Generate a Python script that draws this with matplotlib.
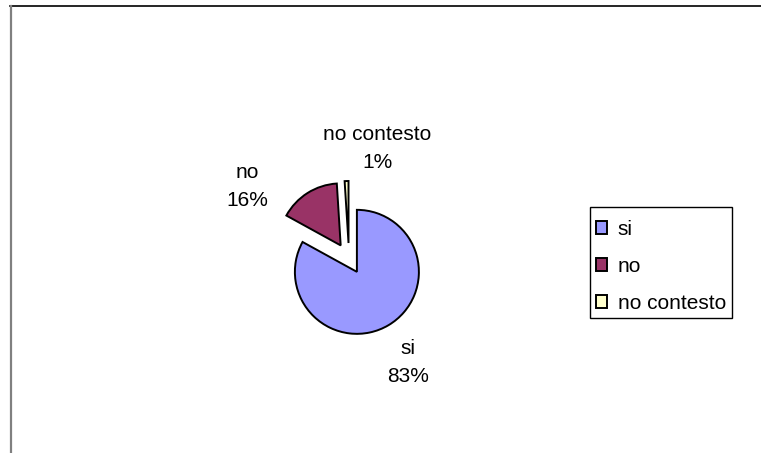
import matplotlib
matplotlib.use("Agg")
import matplotlib.pyplot as plt
from matplotlib.lines import Line2D
from matplotlib.patches import Rectangle

# Survey answers
categories = ["si", "no", "no contesto"]
shares = [83, 16, 1]
colors = ["#9999FF", "#993366", "#FFFFCC"]

W, H = 761, 453
plt.rcParams["font.family"] = ["Liberation Sans", "DejaVu Sans"]

fig = plt.figure(figsize=(W / 100, H / 100), dpi=100)
ax = fig.add_axes([0, 0, 1, 1])

center = (349, H - 258.5)
radius = 62
explode_frac = 0.25
wedges, _ = ax.pie(
    shares,
    colors=colors,
    startangle=90,
    counterclock=False,
    explode=[explode_frac * radius] * len(shares),
    center=center,
    radius=radius,
    wedgeprops=dict(edgecolor="black", linewidth=1.4),
    frame=True,
)
ax.set_xlim(0, W)
ax.set_ylim(0, H)
ax.set_aspect("equal")
ax.axis("off")

# Data labels
label_pos = [(408, H - 363), (247, H - 187), (377, H - 148.5)]
for name, val, (lx, ly) in zip(categories, shares, label_pos):
    ax.text(lx, ly, f"{name}\n{val}%", ha="center", va="center",
            fontsize=15, linespacing=1.6)

# Legend entries, with a plain rectangular frame drawn around them
leg = ax.legend(
    wedges, categories,
    loc="upper left",
    bbox_to_anchor=(596, H - 220), bbox_transform=ax.transData,
    frameon=False, fontsize=15,
    handlelength=0.55, handleheight=0.55, handletextpad=0.5,
    labelspacing=0.86, borderpad=0, borderaxespad=0,
)
ax.add_patch(Rectangle((590, H - 318), 142, 111, fill=False,
                       edgecolor="black", linewidth=1.0, zorder=5))

# Chart-area border (top and left edges)
fig.add_artist(Line2D([10 / W, 1], [1 - 6 / H, 1 - 6 / H],
                      transform=fig.transFigure, color="black", lw=1.2))
fig.add_artist(Line2D([10.5 / W, 10.5 / W], [0, 1 - 6 / H],
                      transform=fig.transFigure, color="#808080", lw=1.6))

fig.savefig("out.png", dpi=100)
